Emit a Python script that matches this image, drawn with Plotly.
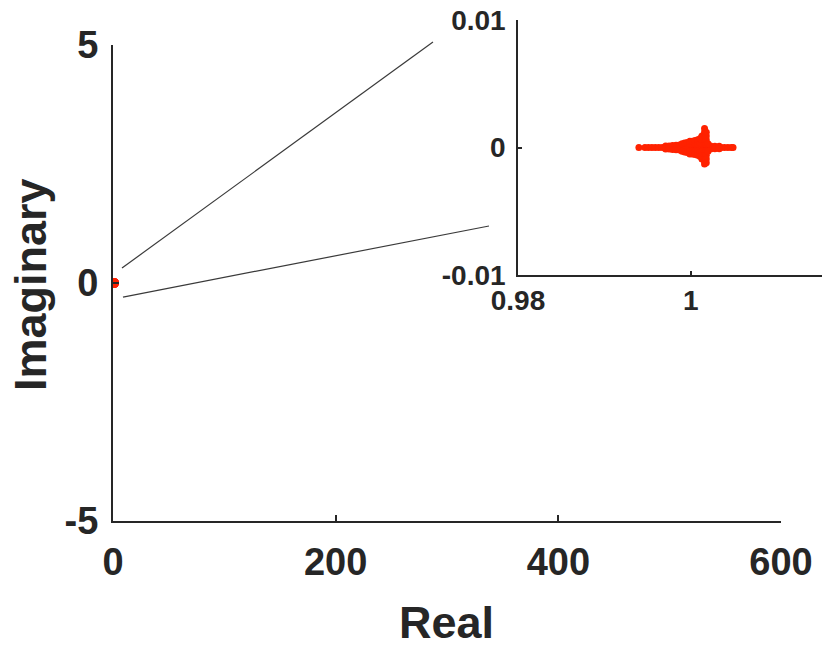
import plotly.graph_objects as go

# ---- data: eigenvalue cloud (real, imaginary) ----
band_real = [0.9940, 0.9947, 0.9951, 0.9955, 0.9959, 0.9963, 0.9967, 0.9971, 0.9975,
             0.9979, 0.9983, 0.9987, 0.9991, 0.9995, 0.9999, 1.0003, 1.0007, 1.0011,
             1.0015, 1.0019, 1.0023, 1.0027, 1.0031, 1.0035, 1.0039, 1.0043, 1.0047, 1.0049]
band_imag = [0.0] * 28

thick_real = [0.9971, 0.9971, 0.9975, 0.9975, 0.9979, 0.9979, 0.9983, 0.9983,
              0.9987, 0.9987, 0.9990, 0.9990, 0.9993, 0.9993, 0.9996, 0.9996,
              0.9999, 0.9999, 0.9999, 0.9999, 1.0002, 1.0002, 1.0002, 1.0002,
              1.0005, 1.0005, 1.0005, 1.0005, 1.0008, 1.0008, 1.0008, 1.0008,
              1.0011, 1.0011, 1.0011, 1.0011,
              1.0023, 1.0023, 1.0028, 1.0028, 1.0033, 1.0033]
thick_imag = [0.00012, -0.00012, 0.00012, -0.00012, 0.00015, -0.00015, 0.00018, -0.00018,
              0.0002, -0.0002, 0.0003, -0.0003, 0.00035, -0.00035, 0.0004, -0.0004,
              0.0003, -0.0003, 0.0005, -0.0005, 0.0003, -0.0003, 0.0005, -0.0005,
              0.0003, -0.0003, 0.00055, -0.00055, 0.0003, -0.0003, 0.0006, -0.0006,
              0.00035, -0.00035, 0.0007, -0.0007,
              0.00012, -0.00012, 0.0001, -0.0001, 0.0001, -0.0001]

spike_real = [1.0013, 1.0013, 1.0013, 1.0013, 1.0013, 1.0013,
              1.0016, 1.0016, 1.0016, 1.0016, 1.0016, 1.0016, 1.0016, 1.0016, 1.0016, 1.0016,
              1.0018, 1.0018, 1.0018, 1.0018, 1.0018, 1.0018, 1.0018, 1.0018,
              1.0020, 1.0020]
spike_imag = [0.0003, -0.0003, 0.0006, -0.0006, 0.0009, -0.0009,
              0.0003, -0.0003, 0.0006, -0.0006, 0.0009, -0.0009, 0.0012, -0.0011, 0.0015, -0.0013,
              0.0003, -0.0003, 0.0006, -0.0006, 0.0009, -0.0009, 0.0012, -0.0012,
              0.0003, -0.0003]

real_vals = band_real + thick_real + spike_real
imag_vals = band_imag + thick_imag + spike_imag

main_x_ticks = [0, 200, 400, 600]
main_y_ticks = [-5, 0, 5]
main_y_labels = ["-5", "0", "5"]
inset_x_ticks = [0.98, 1.0]
inset_x_labels = ["0.98", "1"]
inset_y_ticks = [-0.01, 0, 0.01]
inset_y_labels = ["-0.01", "0", "0.01"]

INK = "#262626"
RED = "#ff2200"
FONT = "Liberation Sans"

fig = go.Figure()
fig.add_trace(go.Scatter(x=real_vals, y=imag_vals, mode="markers",
                         marker=dict(color=RED, size=9, line=dict(width=0)),
                         xaxis="x", yaxis="y", showlegend=False, hoverinfo="skip"))
fig.add_trace(go.Scatter(x=real_vals, y=imag_vals, mode="markers",
                         marker=dict(color=RED, size=7, line=dict(width=0)),
                         xaxis="x2", yaxis="y2", showlegend=False, hoverinfo="skip"))

axis_common = dict(showgrid=False, zeroline=False, showline=True, linecolor=INK,
                   ticks="inside", tickcolor=INK, mirror=False, automargin=False,
                   ticklabeloverflow="allow")

fig.update_layout(
    width=830, height=654,
    margin=dict(l=113, r=8, t=20, b=133),
    paper_bgcolor="white", plot_bgcolor="rgba(0,0,0,0)",
    font=dict(family=FONT, color=INK, weight="bold"),
    xaxis=dict(domain=[0, 0.9422], range=[0, 600], tickvals=main_x_ticks,
               ticklen=6, tickwidth=2, linewidth=2, ticklabelstandoff=6,
               tickfont=dict(size=38, family=FONT, color=INK, weight="bold"),
               anchor="y", **axis_common),
    yaxis=dict(domain=[0, 0.9501], range=[-5, 5], tickvals=main_y_ticks,
               ticktext=main_y_labels, ticklabelstandoff=5,
               ticklen=6, tickwidth=2, linewidth=2,
               tickfont=dict(size=38, family=FONT, color=INK, weight="bold"),
               anchor="x", **axis_common),
    xaxis2=dict(domain=[0.5712, 1.0], range=[0.98, 1.0152], tickvals=inset_x_ticks,
                ticktext=inset_x_labels, ticklen=4, tickwidth=1.5, linewidth=1.5,
                tickfont=dict(size=28, family=FONT, color=INK, weight="bold"),
                anchor="y2", **axis_common),
    yaxis2=dict(domain=[0.491, 1.0], range=[-0.01, 0.01], tickvals=inset_y_ticks,
                ticktext=inset_y_labels, ticklen=4, tickwidth=1.5, linewidth=1.5,
                ticklabelstandoff=5,
                tickfont=dict(size=28, family=FONT, color=INK, weight="bold"),
                anchor="x2", **axis_common),
    annotations=[
        dict(text="Real", xref="paper", yref="paper", x=0.471, y=-0.2016,
             xanchor="center", yanchor="middle", showarrow=False,
             font=dict(size=45, family=FONT, color=INK, weight="bold")),
        dict(text="Imaginary", xref="paper", yref="paper", x=-0.117, y=0.471,
             xanchor="center", yanchor="middle", showarrow=False, textangle=-90,
             font=dict(size=45, family=FONT, color=INK, weight="bold")),
    ],
    shapes=[
        dict(type="line", xref="paper", yref="paper", x0=0.0127, y0=0.505, x1=0.4513, y1=0.956,
             line=dict(color="#3a3a3a", width=1.2)),
        dict(type="line", xref="paper", yref="paper", x0=0.0141, y0=0.447, x1=0.5303, y1=0.5888,
             line=dict(color="#3a3a3a", width=1.2)),
    ],
)

fig.write_html("out.html", config={"displayModeBar": False},
               post_script="document.body.style.margin='0';")
